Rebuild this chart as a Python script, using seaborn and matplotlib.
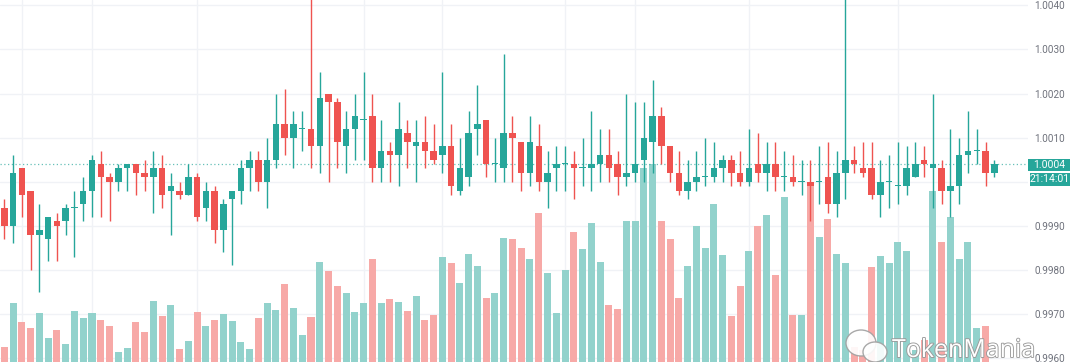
import matplotlib
matplotlib.use("Agg")
import matplotlib.pyplot as plt
import matplotlib.patheffects as pe
from matplotlib.patches import Ellipse, Rectangle
import numpy as np
import pandas as pd
import seaborn as sns

# ---------------- data ----------------
opens = [0.9994, 0.9990, 1.0003, 0.9998, 0.9988, 0.9987, 0.9991, 0.9991, 0.9994, 0.9995,
         0.9998, 1.0004, 1.0001, 1.0000, 1.0003, 1.0004, 1.0002, 1.0001, 1.0003, 0.9998,
         0.9998, 0.9997, 1.0001, 0.9994, 0.9998, 0.9989, 0.9996, 0.9998, 1.0003, 1.0005,
         1.0000, 1.0005, 1.0013, 1.0010, 1.0012, 1.0012, 1.0008, 1.0020, 1.0018, 1.0008,
         1.0012, 1.0014, 1.0015, 1.0003, 1.0007, 1.0006, 1.0011, 1.0008, 1.0009, 1.0007,
         1.0006, 1.0008, 0.9998, 1.0001, 1.0012, 1.0014, 1.0004, 1.0003, 1.0011, 1.0009,
         1.0002, 1.0008, 1.0000, 1.0003, 1.0004, 1.0004, 1.0003, 1.0003, 1.0004, 1.0006,
         1.0004, 1.0001, 1.0002, 1.0005, 1.0009, 1.0015, 1.0008, 1.0002, 0.9998, 1.0000,
         1.0001, 1.0001, 1.0003, 1.0005, 1.0002, 1.0000, 1.0004, 1.0002, 1.0004, 1.0001,
         1.0001, 1.0000, 1.0000, 1.0000, 1.0001, 0.9995, 1.0002, 1.0005, 1.0003, 1.0003,
         0.9997, 1.0000, 0.9999, 0.9999, 1.0001, 1.0005, 1.0003, 1.0003, 0.9998, 0.9999,
         1.0006, 1.0007, 1.0007, 1.0002]

closes = [0.9990, 1.0002, 0.9997, 0.9988, 0.9989, 0.9992, 0.9990, 0.9994, 0.9994, 0.9998,
          1.0005, 1.0001, 1.0000, 1.0003, 1.0004, 1.0002, 1.0001, 1.0003, 0.9997, 0.9999,
          0.9997, 1.0001, 0.9992, 0.9998, 0.9989, 0.9995, 0.9998, 1.0003, 1.0005, 1.0000,
          1.0005, 1.0013, 1.0010, 1.0013, 1.0012, 1.0008, 1.0019, 1.0018, 1.0009, 1.0012,
          1.0015, 1.0014, 1.0003, 1.0007, 1.0006, 1.0012, 1.0009, 1.0009, 1.0007, 1.0005,
          1.0008, 0.9999, 1.0003, 1.0011, 1.0013, 1.0004, 1.0004, 1.0011, 1.0010, 1.0002,
          1.0009, 1.0000, 1.0002, 1.0004, 1.0004, 1.0003, 1.0003, 1.0004, 1.0006, 1.0003,
          1.0001, 1.0002, 1.0004, 1.0010, 1.0015, 1.0008, 1.0002, 0.9998, 1.0000, 1.0001,
          1.0001, 1.0003, 1.0005, 1.0002, 1.0000, 1.0003, 1.0002, 1.0004, 1.0001, 1.0001,
          1.0000, 1.0000, 0.9999, 1.0000, 0.9995, 1.0002, 1.0005, 1.0004, 1.0002, 0.9997,
          1.0000, 1.0000, 0.9999, 1.0003, 1.0004, 1.0004, 1.0004, 0.9998, 0.9999, 1.0006,
          1.0007, 1.0007, 1.0002, 1.0004]

highs = [0.9996, 1.0006, 1.0003, 0.9998, 0.9995, 0.9992, 0.9993, 0.9995, 0.9998, 1.0001,
         1.0006, 1.0007, 1.0002, 1.0004, 1.0004, 1.0004, 1.0005, 1.0007, 1.0006, 1.0002,
         1.0000, 1.0004, 1.0002, 1.0000, 0.9999, 0.9996, 0.9998, 1.0005, 1.0007, 1.0007,
         1.0010, 1.0020, 1.0021, 1.0016, 1.0016, 1.0046, 1.0025, 1.0020, 1.0019, 1.0016,
         1.0020, 1.0025, 1.0020, 1.0014, 1.0009, 1.0018, 1.0014, 1.0014, 1.0015, 1.0013,
         1.0025, 1.0013, 1.0010, 1.0016, 1.0022, 1.0014, 1.0010, 1.0029, 1.0015, 1.0009,
         1.0015, 1.0013, 1.0007, 1.0008, 1.0008, 1.0007, 1.0010, 1.0016, 1.0012, 1.0012,
         1.0007, 1.0020, 1.0018, 1.0018, 1.0023, 1.0017, 1.0008, 1.0007, 1.0005, 1.0007,
         1.0010, 1.0009, 1.0006, 1.0006, 1.0007, 1.0012, 1.0011, 1.0009, 1.0009, 1.0007,
         1.0006, 1.0005, 1.0005, 1.0008, 1.0009, 1.0007, 1.0046, 1.0008, 1.0009, 1.0009,
         1.0005, 1.0006, 1.0009, 1.0008, 1.0009, 1.0008, 1.0020, 1.0005, 1.0012, 1.0010,
         1.0016, 1.0012, 1.0009, 1.0005]

lows = [0.9987, 0.9986, 0.9992, 0.9980, 0.9975, 0.9982, 0.9982, 0.9988, 0.9983, 0.9991,
        0.9992, 0.9992, 0.9991, 0.9998, 0.9998, 0.9997, 0.9998, 0.9993, 0.9994, 0.9988,
        0.9996, 0.9997, 0.9991, 0.9991, 0.9986, 0.9984, 0.9981, 0.9995, 0.9998, 0.9998,
        0.9994, 1.0003, 1.0006, 1.0003, 1.0007, 1.0003, 1.0002, 1.0000, 1.0003, 1.0002,
        1.0005, 1.0005, 1.0000, 1.0000, 1.0000, 0.9999, 1.0003, 1.0000, 1.0003, 1.0004,
        1.0002, 0.9997, 0.9997, 0.9999, 1.0006, 1.0001, 1.0000, 1.0000, 1.0000, 0.9998,
        0.9999, 0.9998, 0.9994, 0.9998, 0.9998, 0.9996, 0.9999, 0.9998, 1.0000, 1.0000,
        0.9997, 0.9999, 1.0000, 1.0000, 1.0002, 1.0004, 1.0000, 0.9997, 0.9996, 0.9998,
        0.9999, 1.0000, 1.0000, 0.9999, 0.9999, 0.9999, 1.0000, 0.9998, 0.9998, 0.9998,
        0.9999, 0.9997, 0.9991, 0.9995, 0.9993, 0.9992, 0.9996, 1.0002, 1.0001, 0.9996,
        0.9992, 0.9994, 0.9995, 0.9997, 1.0001, 1.0001, 0.9994, 0.9995, 0.9992, 0.9995,
        1.0002, 1.0004, 0.9999, 1.0001]

volumes = [15, 59, 40, 34, 49, 24, 32, 18, 51, 44,
           49, 42, 36, 10, 14, 40, 30, 61, 46, 57,
           13, 21, 50, 36, 42, 48, 41, 20, 13, 44,
           59, 52, 78, 54, 27, 45, 100, 91, 76, 69,
           50, 59, 103, 59, 63, 60, 51, 66, 42, 47,
           105, 99, 79, 108, 96, 64, 69, 124, 123, 114,
           103, 149, 89, 49, 92, 130, 113, 139, 100, 57,
           53, 141, 141, 194, 198, 141, 123, 64, 96, 136,
           114, 158, 107, 46, 76, 111, 136, 147, 87, 165,
           47, 47, 180, 125, 143, 108, 99, 15, 12, 95,
           106, 99, 120, 111, 12, 22, 171, 120, 145, 103,
           120, 34, 36, 0]

price_ticks = [0.9960, 0.9970, 0.9980, 0.9990, 1.0000, 1.0010, 1.0020, 1.0030, 1.0040]
tick_labels = ["0.9960", "0.9970", "0.9980", "0.9990", "", "1.0010", "1.0020", "1.0030", "1.0040"]
time_grid_bars = [2, 10, 22, 41, 50, 64, 72, 85, 102]
last_price = 1.0004
last_price_label = "1.0004"
countdown_label = "21:14:01"
watermark = "TokenMania"

# ---------------- styling ----------------
UP = "#26a69a"
DOWN = "#ef5350"
VOL_UP = "#92d2cc"
VOL_DOWN = "#f7a9a7"
GRID = "#f0f2f6"
TEXT = "#6f727c"
NARROW = ["Liberation Sans Narrow", "Roboto", "DejaVu Sans"]

sns.set_theme(style="white")
plt.rcParams["font.family"] = ["DejaVu Sans"]

df = pd.DataFrame({"open": opens, "high": highs, "low": lows, "close": closes, "volume": volumes})
df["idx"] = np.arange(len(df))
df["dir"] = np.where(df["close"] >= df["open"], "up", "down")

W, H = 1080, 362
fig = plt.figure(figsize=(W / 100, H / 100), dpi=100)
fig.patch.set_facecolor("white")
plot_w = 1028 / W
rect = [0, 0, plot_w, 1]

xlim = (-0.502, 116.85)
ylim = (0.995909, 1.004123)

# background axes: grid + price scale
ax_bg = fig.add_axes(rect)
ax_bg.set_xlim(*xlim)
ax_bg.set_ylim(*ylim)
ax_bg.set_facecolor("white")
for p in price_ticks:
    ax_bg.axhline(p, color=GRID, lw=1.0, zorder=0)
for b in time_grid_bars:
    ax_bg.axvline(b, color=GRID, lw=1.0, zorder=0)
ax_bg.yaxis.tick_right()
ax_bg.set_yticks(price_ticks)
ax_bg.set_yticklabels(tick_labels)
ax_bg.tick_params(axis="y", length=0, pad=4.5, labelsize=7.2, labelcolor=TEXT)
for lab in ax_bg.get_yticklabels():
    lab.set_family(NARROW)
ax_bg.set_xticks([])
for s in ax_bg.spines.values():
    s.set_visible(False)

# volume axes (seaborn bars)
ax_v = fig.add_axes(rect)
ax_v.patch.set_visible(False)
sns.barplot(data=df, x="idx", y="volume", hue="dir", palette={"up": VOL_UP, "down": VOL_DOWN},
            dodge=False, width=0.8, saturation=1, errorbar=None, legend=False, ax=ax_v,
            linewidth=0)
ax_v.set_xlim(*xlim)
ax_v.set_ylim(0, 362)
ax_v.axis("off")

# candle axes
ax = fig.add_axes(rect)
ax.patch.set_visible(False)
ax.set_xlim(*xlim)
ax.set_ylim(*ylim)
colors = np.where(df["dir"] == "up", UP, DOWN)
ax.vlines(df["idx"], df["low"], df["high"], colors=colors, lw=1.0, zorder=2)
body_bottom = np.minimum(df["open"], df["close"])
body_h = np.maximum(np.abs(df["close"] - df["open"]), 0.000025)
ax.bar(df["idx"], body_h, bottom=body_bottom, width=0.74, color=colors, linewidth=0, zorder=3)
ax.axhline(last_price, color=UP, lw=0.9, ls=(0, (1, 2)), alpha=0.7, zorder=1)
ax.axis("off")

# price / countdown labels on the scale
def px_rect(x0, y0, x1, y1, color):
    fig.add_artist(Rectangle((x0 / W, 1 - y1 / H), (x1 - x0) / W, (y1 - y0) / H,
                             transform=fig.transFigure, facecolor=color, edgecolor="none"))

px_rect(1028, 158.5, 1070, 170.5, UP)
fig.text(1049 / W, 1 - 164.5 / H, last_price_label, color="white", fontsize=7.5,
         family=NARROW, ha="center", va="center")
px_rect(1030, 173, 1070, 186, UP)
fig.text(1050 / W, 1 - 179.5 / H, countdown_label, color="white", fontsize=7.5,
         family=NARROW, ha="center", va="center")

# watermark
for (cx, cy, rx, ry) in [(861, 343, 15, 13), (875, 352, 12, 10)]:
    fig.add_artist(Ellipse((cx / W, 1 - cy / H), 2 * rx / W, 2 * ry / H,
                           transform=fig.transFigure, facecolor="white",
                           edgecolor="#a0a0a0", lw=1.0, alpha=0.9))
fig.text(892 / W, 1 - 357 / H, watermark, fontsize=18, family=["Open Sans", "DejaVu Sans"],
         color="white", ha="left", va="baseline",
         path_effects=[pe.Stroke(linewidth=1.3, foreground="#9a9a9a"), pe.Normal()])

fig.savefig("out.png", dpi=100, facecolor="white")
